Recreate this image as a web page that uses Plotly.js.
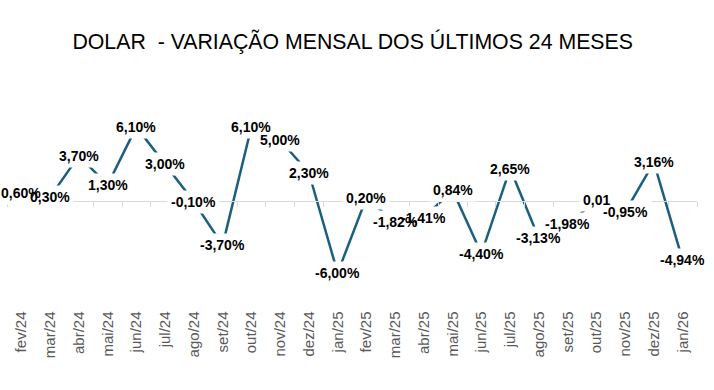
<!DOCTYPE html>
<html>
<head>
<meta charset="utf-8">
<script src="https://cdn.plot.ly/plotly-3.0.1.min.js"></script>
<style>html,body{margin:0;padding:0;background:#fff;}#chart{width:714px;height:390px;}</style>
</head>
<body>
<div id="chart"></div>
<script>
const months = ["fev/24","mar/24","abr/24","mai/24","jun/24","jul/24","ago/24","set/24","out/24","nov/24","dez/24","jan/25","fev/25","mar/25","abr/25","mai/25","jun/25","jul/25","ago/25","set/25","out/25","nov/25","dez/25","jan/26"];
const variation = [0.60,0.30,3.70,1.30,6.10,3.00,-0.10,-3.70,6.10,5.00,2.30,-6.00,0.20,-1.82,-1.41,0.84,-4.40,2.65,-3.13,-1.98,0.01,-0.95,3.16,-4.94];
const labels = ["0,60%","0,30%","3,70%","1,30%","6,10%","3,00%","-0,10%","-3,70%","6,10%","5,00%","2,30%","-6,00%","0,20%","-1,82%","-1,41%","0,84%","-4,40%","2,65%","-3,13%","-1,98%","0,01","-0,95%","3,16%","-4,94%"];

const lineColor = "#1b5f80";

const trace = {
  x: months, y: variation, type: "scatter", mode: "lines",
  line: {color: lineColor, width: 2.5}, hoverinfo: "skip", cliponaxis: false
};

const labelFont = {family: "Liberation Sans, Arial, sans-serif", size: 14, color: "#000"};
const boxes = months.map((m, i) => ({
  x: m, y: variation[i], xref: "x", yref: "y", text: "<b>" + labels[i] + "</b>",
  showarrow: false, bgcolor: "#ffffff", borderpad: 3,
  font: Object.assign({}, labelFont, {color: "#ffffff"})
}));
const texts = months.map((m, i) => ({
  x: m, y: variation[i], xref: "x", yref: "y", text: "<b>" + labels[i] + "</b>",
  showarrow: false, borderpad: 3, font: labelFont
}));

const layout = {
  width: 714, height: 390,
  margin: {l: 7, r: 17, t: 104, b: 93},
  paper_bgcolor: "#ffffff", plot_bgcolor: "#ffffff",
  showlegend: false,
  title: {
    text: "DOLAR\u00a0 - VARIAÇÃO MENSAL DOS ÚLTIMOS 24 MESES",
    font: {family: "Liberation Sans, Arial, sans-serif", size: 21.3, color: "#000"},
    x: 0.494, xref: "container", xanchor: "center",
    y: 1 - 42/390, yref: "container", yanchor: "middle"
  },
  xaxis: {
    type: "category", anchor: "free", position: 0.5,
    range: [-0.5, months.length - 0.5],
    showline: true, linecolor: "#d9d9d9", linewidth: 1,
    ticks: "outside", ticklen: 5, tickcolor: "#d9d9d9", tickwidth: 1,
    tickson: "boundaries", showgrid: false, zeroline: false,
    tickangle: -90, ticklabelstandoff: 104,
    tickfont: {family: "Liberation Sans, Arial, sans-serif", size: 15, color: "#595959"},
    fixedrange: true
  },
  yaxis: {
    range: [-8, 8], visible: false, showgrid: false, zeroline: false, fixedrange: true
  },
  annotations: boxes.concat(texts)
};

Plotly.newPlot("chart", [trace], layout, {displayModeBar: false, staticPlot: true});
</script>
</body>
</html>
